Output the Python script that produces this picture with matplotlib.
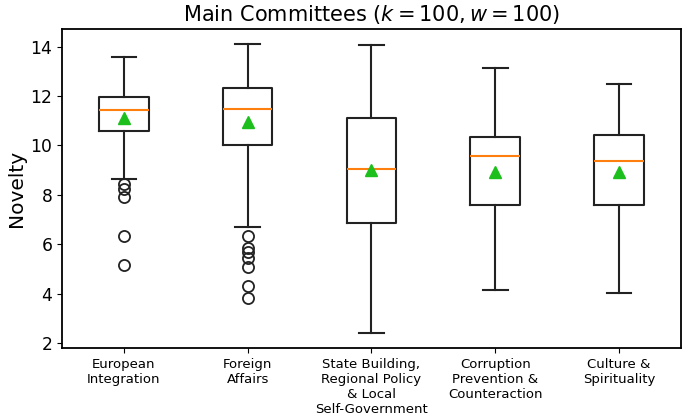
import matplotlib
matplotlib.use("Agg")
import matplotlib.pyplot as plt

categories = ["European\nIntegration", "Foreign\nAffairs",
              "State Building,\nRegional Policy\n& Local\nSelf-Government",
              "Corruption\nPrevention &\nCounteraction", "Culture &\nSpirituality"]
whis_low = [8.63, 6.70, 2.38, 4.14, 4.02]
q1 = [10.60, 10.00, 6.86, 7.58, 7.58]
medians = [11.44, 11.49, 9.06, 9.57, 9.37]
q3 = [11.95, 12.33, 11.12, 10.36, 10.42]
whis_high = [13.57, 14.13, 14.08, 13.14, 12.50]
means = [11.12, 10.94, 8.99, 8.92, 8.92]
outliers = [
    [8.42, 8.22, 7.91, 6.32, 5.15],
    [6.34, 5.83, 5.69, 5.42, 5.08, 4.30, 3.80],
    [], [], [],
]

stats = []
for i, lab in enumerate(categories):
    stats.append(dict(label=lab, whislo=whis_low[i], q1=q1[i], med=medians[i],
                      q3=q3[i], whishi=whis_high[i], mean=means[i], fliers=outliers[i]))

fig = plt.figure(figsize=(6.85, 4.18), dpi=100)
ax = fig.add_axes([0.0905, 0.1675, 0.9035, 0.763])
ax.bxp(stats, showmeans=True, widths=0.4,
       boxprops=dict(linewidth=1.5, color="#222222"),
       whiskerprops=dict(linewidth=1.5, color="#222222"),
       capprops=dict(linewidth=1.5, color="#222222"),
       medianprops=dict(linewidth=1.5, color="#ff7f0e"),
       meanprops=dict(marker="^", markerfacecolor="#1cbf1c", markeredgecolor="#1cbf1c", markersize=8.5),
       flierprops=dict(marker="o", markerfacecolor="none", markeredgecolor="#222222", markersize=8, markeredgewidth=1.3))
ax.set_title(r"Main Committees ($k = 100, w = 100$)", fontsize=15)
ax.set_ylabel("Novelty", fontsize=14.5, labelpad=3)
ax.set_yticks([2, 4, 6, 8, 10, 12, 14])
ax.tick_params(axis="y", labelsize=12.3)
ax.tick_params(axis="x", labelsize=9.5)
for s in ax.spines.values():
    s.set_linewidth(1.3)
fig.savefig("out.png", dpi=100)
